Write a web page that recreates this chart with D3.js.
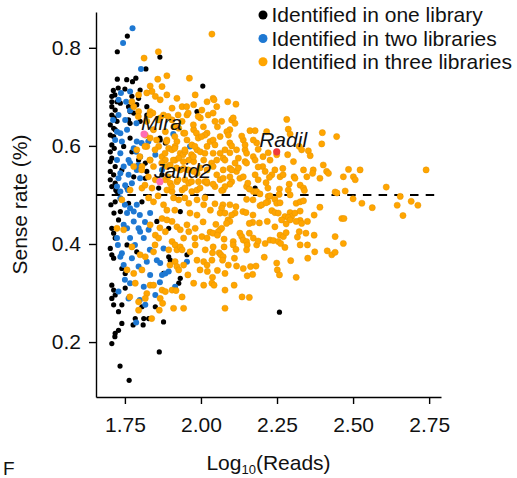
<!DOCTYPE html>
<html>
<head>
<meta charset="utf-8">
<script src="https://cdn.jsdelivr.net/npm/d3@7"></script>
<style>
body { margin: 0; background: #fff; }
text { font-family: "Liberation Sans", Arial, sans-serif; }
</style>
</head>
<body>
<div id="content"></div>
<script>
// each point: [log10(reads), sense rate]
var oneLibrary = [
  [1.758,0.824],[1.725,0.792],[1.865,0.781],[1.819,0.757],[1.725,0.736],[1.756,0.735],[1.786,0.738],[1.775,0.731],
  [1.712,0.713],[1.717,0.704],[1.728,0.718],[1.750,0.716],[2.006,0.722],[1.707,0.701],[1.800,0.714],[1.707,0.690],
  [1.724,0.690],[1.735,0.687],[1.773,0.701],[1.795,0.697],[1.707,0.680],[1.718,0.673],[1.762,0.680],[1.789,0.684],
  [1.822,0.680],[1.987,0.670],[1.707,0.663],[1.715,0.657],[1.724,0.650],[1.767,0.670],[1.779,0.667],[1.822,0.663],
  [1.702,0.643],[1.713,0.636],[1.718,0.633],[1.762,0.653],[1.767,0.646],[1.800,0.650],[1.702,0.622],[1.713,0.619],
  [1.767,0.616],[1.866,0.612],[1.883,0.606],[1.707,0.602],[1.715,0.595],[1.702,0.588],[1.746,0.599],[1.773,0.588],
  [1.707,0.575],[1.702,0.568],[1.718,0.558],[1.795,0.571],[1.817,0.565],[1.872,0.541],[1.702,0.548],[1.713,0.541],
  [1.740,0.551],[1.702,0.531],[1.718,0.524],[1.707,0.517],[1.779,0.537],[1.817,0.534],[1.861,0.514],[1.757,0.514],
  [1.724,0.507],[2.014,0.497],[1.822,0.548],[2.178,0.514],[1.707,0.432],[1.713,0.422],[1.718,0.412],[1.729,0.449],
  [1.735,0.466],[1.718,0.486],[1.762,0.483],[1.806,0.486],[1.702,0.391],[1.707,0.378],[1.713,0.371],[1.757,0.398],
  [1.789,0.384],[1.855,0.446],[1.894,0.432],[1.932,0.466],[1.894,0.374],[1.899,0.367],[1.877,0.340],[1.932,0.330],
  [1.927,0.320],[1.954,0.378],[1.740,0.350],[1.751,0.340],[1.707,0.316],[1.713,0.306],[1.718,0.296],[1.707,0.289],
  [1.751,0.310],[1.740,0.276],[1.713,0.276],[1.729,0.262],[1.806,0.272],[1.850,0.272],[1.784,0.248],[1.812,0.248],
  [1.828,0.248],[1.877,0.241],[1.740,0.238],[1.729,0.224],[1.718,0.218],[1.707,0.197],[1.717,0.211],[1.777,0.235],
  [1.810,0.235],[1.863,0.180],[1.734,0.151],[1.764,0.122],[2.258,0.261],[1.704,0.480],[1.714,0.463],[1.720,0.510],
  [1.865,0.616],[1.843,0.633]
];

var twoLibraries = [
  [1.775,0.840],[1.744,0.810],[1.803,0.757],[1.737,0.708],[1.767,0.711],[1.729,0.694],[1.754,0.690],[1.767,0.672],
  [1.729,0.663],[1.751,0.653],[1.724,0.629],[1.735,0.626],[1.757,0.633],[1.718,0.612],[1.740,0.609],[1.789,0.609],
  [1.779,0.595],[1.787,0.588],[1.735,0.585],[1.800,0.578],[1.724,0.571],[1.762,0.571],[1.767,0.565],[1.746,0.558],
  [1.735,0.544],[1.729,0.534],[1.762,0.541],[1.789,0.551],[1.800,0.534],[1.751,0.520],[1.773,0.524],[1.724,0.517],
  [1.735,0.507],[1.872,0.551],[1.850,0.582],[1.735,0.493],[1.767,0.473],[1.779,0.466],[1.757,0.463],[1.789,0.480],
  [1.746,0.439],[1.757,0.432],[1.779,0.446],[1.795,0.432],[1.800,0.425],[1.724,0.412],[1.767,0.412],[1.812,0.412],
  [1.828,0.429],[1.740,0.381],[1.735,0.374],[1.773,0.371],[1.746,0.357],[1.795,0.354],[1.822,0.364],[1.855,0.367],
  [1.866,0.361],[1.872,0.337],[1.833,0.337],[1.883,0.340],[1.894,0.344],[1.767,0.320],[1.729,0.303],[1.762,0.289],
  [1.812,0.313],[1.850,0.296],[1.915,0.313],[1.954,0.364],[1.833,0.463],[1.817,0.276],[1.787,0.240],[1.877,0.391],
  [1.964,0.599],[1.909,0.624],
  [1.750,0.480],[1.799,0.459],[1.816,0.445],[1.727,0.398],[1.783,0.398],[1.832,0.388],[1.750,0.327],[1.799,0.286],
  [1.865,0.322],[1.760,0.510],[1.788,0.646],[1.827,0.609],[1.805,0.606],[1.794,0.561],[1.711,0.653]
];

var threeLibraries = [
  // upper left
  [2.036,0.828],[1.860,0.792],[1.813,0.779],[1.858,0.736],[1.962,0.738],
  [1.888,0.743],[1.872,0.721],[1.833,0.722],[1.822,0.708],[1.839,0.711],[1.795,0.704],[1.850,0.701],[1.866,0.694],
  [1.888,0.704],[1.921,0.697],[1.905,0.677],[1.938,0.680],[1.981,0.704],[1.976,0.684],[2.020,0.690],[2.003,0.673],
  [1.773,0.690],[1.779,0.680],[1.795,0.670],[1.833,0.670],[1.842,0.667],[1.877,0.663],[1.866,0.657],[1.822,0.650],
  [1.905,0.653],[1.954,0.663],[1.938,0.650],[1.998,0.657],[1.915,0.639],[1.927,0.636],[1.883,0.629],[1.844,0.633],
  [1.817,0.622],[1.833,0.616],[1.943,0.626],[1.976,0.633],[1.985,0.626],[2.020,0.626],[1.954,0.612],[1.921,0.609],
  [1.888,0.612],[1.861,0.599],[1.822,0.599],[1.789,0.592],[1.894,0.595],[1.905,0.592],[1.915,0.599],[1.932,0.585],
  [1.941,0.582],[1.948,0.588],[1.970,0.602],[1.987,0.592],[1.998,0.588],[2.020,0.599],[1.872,0.578],[1.883,0.571],
  [1.833,0.571],[1.915,0.571],[1.927,0.575],[1.960,0.571],[1.976,0.568],[2.009,0.571],[1.779,0.558],[1.806,0.558],
  [1.844,0.558],[1.888,0.558],[1.899,0.561],[1.932,0.551],[1.943,0.554],[1.976,0.548],[1.987,0.544],[2.020,0.551],
  [1.850,0.531],[1.883,0.531],[1.899,0.524],[1.921,0.527],[1.948,0.531],[1.960,0.524],[1.992,0.527],[2.020,0.524],
  [1.767,0.510],[1.806,0.514],[1.839,0.514],[1.888,0.510],[1.905,0.507],[1.938,0.510],[1.970,0.507],[1.987,0.510],
  [1.953,0.680],[2.013,0.622],[1.991,0.616],[1.969,0.582],[2.013,0.527],
  [1.794,0.660],[1.832,0.663],[1.860,0.653],[1.892,0.660],[1.925,0.663],[1.958,0.667],[1.991,0.660],[2.024,0.663],
  [1.975,0.643],[2.008,0.639],[1.947,0.626],[1.914,0.619],[1.887,0.609],[1.854,0.612],[2.002,0.619],[2.030,0.609],
  [1.980,0.599],[1.947,0.592],[1.914,0.595],[1.882,0.585],[1.849,0.592],[1.816,0.599],[1.799,0.578],[1.832,0.571],
  [1.871,0.565],[1.909,0.571],[1.942,0.568],[1.975,0.578],[2.013,0.585],[2.035,0.565],[1.997,0.555],[1.958,0.551],
  [1.920,0.555],[1.805,0.551],[1.827,0.537],[1.892,0.537],[1.925,0.531],[1.969,0.527],[2.019,0.527],[1.816,0.520],
  [1.904,0.517],[1.947,0.514],[1.997,0.514],
  // upper right
  [2.523,0.551],[2.485,0.552],[2.501,0.537],[2.507,0.531],[2.468,0.537],[2.609,0.516],[2.655,0.497],[2.446,0.619],
  [2.399,0.627],[2.397,0.604],[2.282,0.654],[2.287,0.634],[2.293,0.624],[2.323,0.599],[2.331,0.592],[2.353,0.590],
  [2.359,0.580],[2.304,0.568],[2.285,0.582],[2.249,0.582],[2.369,0.551],[2.367,0.544],[2.402,0.561],[2.413,0.548],
  [2.419,0.544],[2.391,0.534],[2.337,0.551],[2.348,0.537],[2.306,0.537],[2.309,0.534],[2.326,0.520],[2.337,0.514],
  [2.340,0.509],[2.290,0.522],[2.269,0.554],[2.243,0.551],[2.260,0.537],[2.233,0.541],[2.225,0.536],[2.203,0.558],
  [2.188,0.557],[2.211,0.548],[2.258,0.512],[2.221,0.497],[2.172,0.507],[2.150,0.517],[2.159,0.512],[2.128,0.534],
  [2.139,0.537],[2.117,0.548],[2.101,0.527],[2.095,0.522],[2.063,0.531],[2.073,0.534],[2.046,0.517],[2.073,0.510],
  [2.145,0.568],[2.150,0.565],[2.123,0.575],[2.172,0.578],[2.178,0.571],[2.145,0.592],[2.150,0.585],[2.117,0.592],
  [2.183,0.606],[2.172,0.612],[2.139,0.612],[2.134,0.620],[2.161,0.631],[2.178,0.631],[2.216,0.629],[2.188,0.593],
  [2.221,0.586],[2.095,0.633],[2.101,0.653],[2.106,0.657],[2.112,0.646],[2.085,0.629],[2.090,0.622],[2.054,0.639],
  [2.046,0.650],[2.052,0.680],[2.040,0.697],[2.043,0.694],[2.088,0.690],[2.115,0.685],[2.040,0.667],[2.040,0.612],
  [2.046,0.602],[2.095,0.606],[2.101,0.600],[2.079,0.592],[2.063,0.585],[2.040,0.585],[2.073,0.575],[2.079,0.571],
  [2.052,0.571],[2.112,0.565],[2.095,0.554],[2.101,0.551],[2.073,0.551],[2.040,0.558],[2.052,0.541],
  [2.068,0.650],[2.063,0.619],[2.204,0.578],[2.227,0.571],[2.270,0.541],[2.178,0.541],[2.123,0.555],[2.095,0.537],
  [2.154,0.524],[2.188,0.531],[2.214,0.525],[2.220,0.514],[2.287,0.510],[2.740,0.551],[2.441,0.506],[2.447,0.504],
  [2.040,0.522],[2.079,0.517],[2.145,0.602],[2.095,0.586],
  // lower left
  [1.828,0.494],[1.844,0.486],[1.877,0.480],[1.888,0.469],[1.910,0.494],[1.927,0.490],[1.960,0.483],[1.987,0.490],
  [2.009,0.480],[2.031,0.469],[1.987,0.459],[1.872,0.452],[1.888,0.449],[1.905,0.446],[1.921,0.435],[1.932,0.429],
  [1.833,0.439],[1.850,0.418],[1.861,0.412],[1.883,0.425],[1.954,0.439],[1.960,0.425],[1.981,0.432],[2.003,0.415],
  [2.020,0.412],[1.943,0.412],[1.905,0.405],[1.915,0.398],[1.921,0.388],[1.932,0.394],[1.938,0.388],[1.894,0.388],
  [1.981,0.398],[2.014,0.388],[2.036,0.367],[1.987,0.367],[2.009,0.364],[2.020,0.357],[1.915,0.364],[1.921,0.354],
  [1.927,0.347],[1.943,0.357],[1.806,0.347],[1.779,0.340],[1.833,0.316],[1.844,0.316],[1.872,0.306],[1.883,0.303],
  [1.905,0.306],[1.976,0.320],[2.009,0.316],[2.036,0.320],[1.938,0.292],[1.822,0.299],[1.817,0.289],[1.795,0.282],
  [1.866,0.289],[1.910,0.269],[1.943,0.269],[1.795,0.265],[1.784,0.320],[1.757,0.347],[1.746,0.429],[1.740,0.490],
  [1.724,0.432],[1.773,0.394],[1.844,0.384],[1.800,0.378],[1.817,0.374],
  [1.838,0.248],[1.863,0.265],[1.874,0.279],[2.079,0.269],[2.079,0.306],[2.109,0.316],[2.135,0.292],[2.159,0.291],
  [1.918,0.305],[2.021,0.344],[1.766,0.292],
  [1.859,0.498],[1.947,0.494],[2.013,0.494],[1.914,0.469],[1.964,0.463],[2.007,0.445],[1.865,0.433],[1.980,0.412],
  [1.964,0.384],[1.997,0.347],[1.898,0.357],[1.957,0.337],[1.849,0.398],[2.030,0.424],
  // lower right
  [2.068,0.509],[2.183,0.507],[2.194,0.502],[2.227,0.498],[2.257,0.501],[2.293,0.500],[2.474,0.508],[2.500,0.492],
  [2.529,0.483],[2.563,0.474],[2.645,0.479],[2.691,0.487],[2.713,0.479],[2.664,0.458],[2.046,0.482],[2.072,0.480],
  [2.068,0.473],[2.063,0.463],[2.095,0.480],[2.115,0.476],[2.079,0.463],[2.112,0.463],[2.101,0.459],[2.138,0.466],
  [2.148,0.464],[2.171,0.459],[2.150,0.491],[2.171,0.490],[2.194,0.478],[2.200,0.480],[2.220,0.486],[2.214,0.484],
  [2.243,0.491],[2.249,0.483],[2.260,0.484],[2.293,0.464],[2.298,0.456],[2.309,0.463],[2.313,0.483],[2.326,0.486],
  [2.337,0.488],[2.391,0.475],[2.372,0.459],[2.233,0.468],[2.243,0.464],[2.254,0.463],[2.276,0.456],[2.287,0.454],
  [2.265,0.449],[2.293,0.449],[2.326,0.467],[2.326,0.448],[2.350,0.446],[2.218,0.446],[2.243,0.435],[2.280,0.441],
  [2.313,0.446],[2.331,0.442],[2.463,0.452],[2.470,0.452],[2.170,0.444],[2.159,0.442],[2.192,0.443],[2.089,0.449],
  [2.095,0.446],[2.084,0.442],[2.049,0.440],[2.040,0.422],[2.063,0.429],[2.068,0.432],[2.057,0.425],[2.054,0.418],
  [2.076,0.410],[2.106,0.405],[2.128,0.422],[2.134,0.415],[2.159,0.422],[2.172,0.412],[2.139,0.408],[2.150,0.405],
  [2.152,0.398],[2.150,0.388],[2.183,0.398],[2.188,0.406],[2.211,0.401],[2.227,0.408],[2.238,0.407],[2.254,0.405],
  [2.262,0.401],[2.260,0.418],[2.271,0.415],[2.280,0.423],[2.276,0.393],[2.323,0.425],[2.317,0.414],[2.345,0.422],
  [2.372,0.418],[2.326,0.398],[2.350,0.398],[2.374,0.384],[2.351,0.371],[2.441,0.415],[2.468,0.401],[2.415,0.386],
  [2.430,0.378],[2.441,0.383],[2.295,0.366],[2.208,0.373],[2.249,0.361],[2.251,0.347],[2.258,0.337],[2.313,0.332],
  [2.106,0.398],[2.115,0.389],[2.076,0.394],[2.040,0.394],[2.038,0.382],[2.060,0.382],[2.065,0.378],[2.073,0.374],
  [2.071,0.367],[2.110,0.371],[2.117,0.355],[2.139,0.350],[2.163,0.354],[2.181,0.355],[2.170,0.338],[2.152,0.335],
  [2.090,0.357],[2.054,0.346],[2.079,0.340],[2.038,0.332],[2.043,0.316]
];

// labelled genes
var geneNames = ['Mira', 'Jarid2', 'Radil'];
var genePoints = [[1.813,0.624],[1.865,0.527],[2.249,0.588]];
var geneColors = ['#ff6eb4', '#ff6eb4', '#f03a3a'];

var legendLabels = ['Identified in one library', 'Identified in two libraries', 'Identified in three libraries'];
var groupColors = ['#000000', '#1e78d2', '#ffa500'];
var xTicks = [1.75, 2.00, 2.25, 2.50, 2.75];
var yTicks = [0.2, 0.4, 0.6, 0.8];
var cutoff = 0.5;

var width = 517, height = 478;
var fontSize = 21;

var svg = d3.select("#content")
  .append("svg")
  .attr("width", width)
  .attr("height", height);

svg.append("rect")
  .attr("width", width)
  .attr("height", height)
  .attr("fill", "white");

var xScale = d3.scaleLinear().domain([1.655, 2.789]).range([96, 441]);
var yScale = d3.scaleLinear().domain([0.088, 0.873]).range([397, 12]);

// axes
var xAxis = svg.append("g")
  .attr("transform", "translate(0,397)")
  .call(d3.axisBottom(xScale).tickValues(xTicks).tickFormat(d3.format(".2f"))
    .tickSize(7).tickSizeOuter(0).tickPadding(13));

var yAxis = svg.append("g")
  .attr("transform", "translate(96,0)")
  .call(d3.axisLeft(yScale).tickValues(yTicks).tickFormat(d3.format(".1f"))
    .tickSize(7).tickSizeOuter(0).tickPadding(8));

svg.selectAll(".domain, .tick line")
  .attr("stroke", "#000")
  .attr("stroke-width", 1.4);

svg.selectAll(".tick text")
  .attr("fill", "#111")
  .style("font-size", fontSize + "px")
  .style("font-family", "'Liberation Sans', Arial, sans-serif");

// dashed reference line
svg.append("line")
  .attr("x1", xScale.range()[0])
  .attr("x2", xScale.range()[1])
  .attr("y1", yScale(cutoff))
  .attr("y2", yScale(cutoff))
  .attr("stroke", "#000")
  .attr("stroke-width", 2)
  .attr("stroke-dasharray", "8.5,7.2");

// points, one group at a time
var groups = [oneLibrary, twoLibraries, threeLibraries];
var radii = [2.6, 3, 3.1];
groups.forEach(function(g, i) {
  svg.append("g")
    .selectAll("circle")
    .data(g)
    .join("circle")
      .attr("cx", (d) => xScale(d[0]))
      .attr("cy", (d) => yScale(d[1]))
      .attr("r", radii[i])
      .attr("fill", groupColors[i])
      .attr("stroke", i == 2 ? "#e69500" : "none")
      .attr("stroke-width", 0.5);
});

// highlighted genes
svg.append("g")
  .selectAll("circle")
  .data(genePoints)
  .join("circle")
    .attr("cx", (d) => xScale(d[0]))
    .attr("cy", (d) => yScale(d[1]))
    .attr("r", 3.6)
    .attr("fill", (d, i) => geneColors[i]);

var labelDx = [-3, -6, -17.5];
var labelDy = [-4, -4, -5];
svg.append("g")
  .selectAll("text")
  .data(genePoints)
  .join("text")
    .attr("x", (d, i) => xScale(d[0]) + labelDx[i])
    .attr("y", (d, i) => yScale(d[1]) + labelDy[i])
    .text((d, i) => geneNames[i])
    .style("font-size", fontSize + "px")
    .style("font-style", "italic")
    .attr("fill", "#111");

// legend
var legendY = [15, 38.5, 61.7];
var legend = svg.append("g");
legend.selectAll("circle")
  .data(legendLabels)
  .join("circle")
    .attr("cx", 263)
    .attr("cy", (d, i) => legendY[i])
    .attr("r", 4.5)
    .attr("fill", (d, i) => groupColors[i]);
legend.selectAll("text")
  .data(legendLabels)
  .join("text")
    .attr("x", 271.5)
    .attr("y", (d, i) => legendY[i] + 7)
    .text((d) => d)
    .style("font-size", fontSize + "px")
    .attr("fill", "#111");

// axis titles
var xTitle = svg.append("text")
  .attr("x", (xScale.range()[0] + xScale.range()[1]) / 2)
  .attr("y", 470)
  .attr("text-anchor", "middle")
  .style("font-size", fontSize + "px")
  .attr("fill", "#111");
xTitle.append("tspan").text("Log");
xTitle.append("tspan").text("10").style("font-size", "13px").attr("dy", 4);
xTitle.append("tspan").text("(Reads)").attr("dy", -4);

svg.append("text")
  .attr("transform", "translate(27," + ((yScale.range()[0] + yScale.range()[1]) / 2) + ") rotate(-90)")
  .attr("text-anchor", "middle")
  .style("font-size", fontSize + "px")
  .attr("fill", "#111")
  .text("Sense rate (%)");

// panel letter
svg.append("text")
  .attr("x", 3)
  .attr("y", 475)
  .style("font-size", "19px")
  .attr("fill", "#111")
  .text("F");
</script>
</body>
</html>
